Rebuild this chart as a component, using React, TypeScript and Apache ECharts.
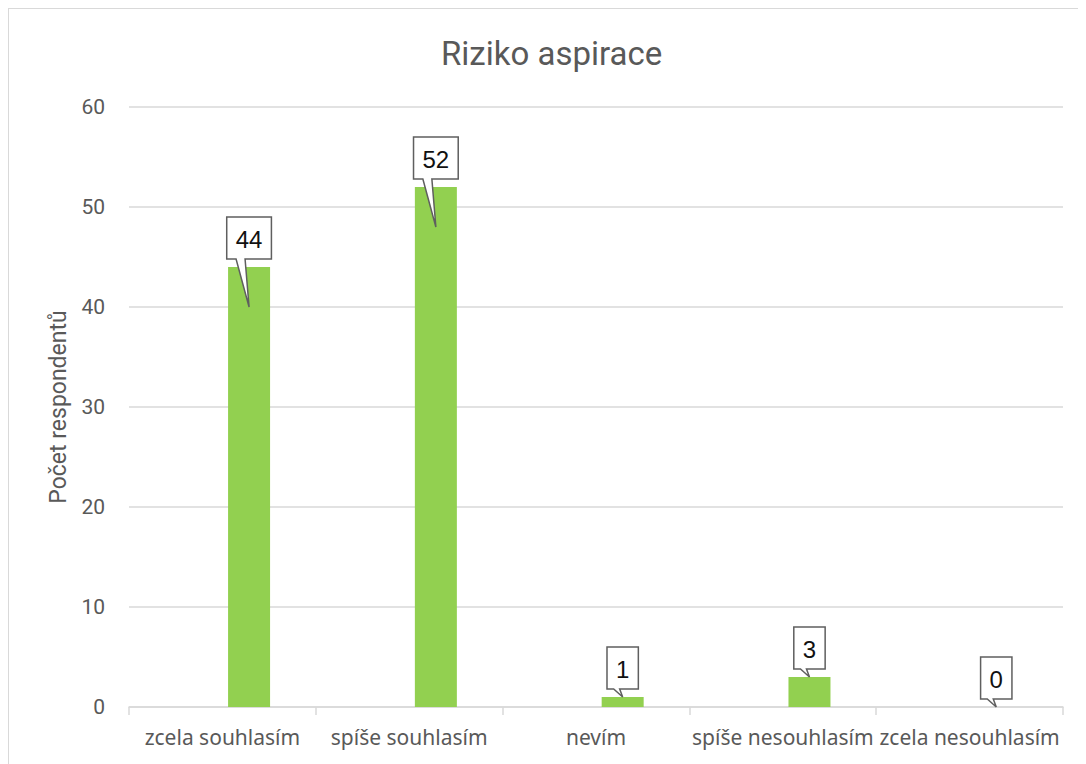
import React, { useEffect, useRef } from "react";
import * as echarts from "echarts";

const categories = [
  "zcela souhlasím",
  "spíše souhlasím",
  "nevím",
  "spíše nesouhlasím",
  "zcela nesouhlasím",
];
const respondents = [44, 52, 1, 3, 0];
const yTicks = [0, 10, 20, 30, 40, 50, 60];

const BAR_WIDTH = 42;
const BAR_GAP = 0.27;
// bars sit in the second slot of a two-slot group, so they are shifted right of the band centre
const BAR_OFFSET = (BAR_WIDTH + BAR_WIDTH * BAR_GAP) / 2;
const TEXT = "#595959";
const LINE = "#d9d9d9";

export default function App() {
  const ref = useRef<HTMLDivElement>(null);

  useEffect(() => {
    if (!ref.current) return;
    const chart = echarts.init(ref.current, undefined, { renderer: "svg" });

    const calloutItem = (params: any, api: any) => {
      const idx = api.value(0);
      const val = api.value(1);
      const [cx0, top] = api.coord([idx, val]);
      const base = api.coord([idx, 0])[1];
      const cx = cx0 + BAR_OFFSET;
      const label = String(val);
      const w = label.length * 13.35 + 18;
      const h = 42;
      const B = top - 8;
      const T = B - h;
      const L = cx - w / 2;
      const R = cx + w / 2;
      const tall = base - top > 80;
      const tipY = tall ? top + 40 : top;
      const b1 = tall ? -13 : -9;
      const b2 = tall ? -4 : -3;
      return {
        type: "group",
        children: [
          {
            type: "polygon",
            shape: {
              points: [
                [L, T],
                [R, T],
                [R, B],
                [cx + b2, B],
                [cx, tipY],
                [cx + b1, B],
                [L, B],
              ],
            },
            style: { fill: "#ffffff", stroke: "#5f5f5f", lineWidth: 1.5 },
          },
          {
            type: "text",
            style: {
              text: label,
              x: cx,
              y: T + h / 2 + 1,
              align: "center",
              verticalAlign: "middle",
              fontSize: 24,
              fontFamily: "Liberation Sans, Arial, sans-serif",
              fill: "#111111",
            },
          },
        ],
      };
    };

    chart.setOption({
      animation: false,
      title: {
        text: "Riziko aspirace",
        left: 427,
        top: 23,
        textStyle: {
          fontSize: 33,
          fontWeight: "normal",
          color: TEXT,
          fontFamily: "Roboto, sans-serif",
        },
      },
      grid: { left: 120, top: 98, width: 934, height: 600 },
      xAxis: {
        type: "category",
        data: categories,
        axisLine: { lineStyle: { color: LINE, width: 1.5 } },
        axisTick: { show: true, length: 8, lineStyle: { color: LINE, width: 1.5 } },
        axisLabel: {
          interval: 0,
          margin: 19,
          fontSize: 21,
          color: TEXT,
          fontFamily: "Noto Sans, sans-serif",
        },
      },
      yAxis: {
        type: "value",
        min: yTicks[0],
        max: yTicks[yTicks.length - 1],
        interval: 10,
        name: "Počet respondentů",
        nameLocation: "middle",
        nameGap: 58,
        nameTextStyle: {
          fontSize: 23,
          color: TEXT,
          fontFamily: "Roboto, sans-serif",
        },
        axisLine: { show: false },
        axisTick: { show: false },
        axisLabel: {
          margin: 24,
          fontSize: 21,
          color: TEXT,
          fontFamily: "Roboto, sans-serif",
        },
        splitLine: { lineStyle: { color: LINE, width: 1.5 } },
      },
      series: [
        {
          type: "bar",
          name: "spacer",
          data: categories.map(() => "-"),
          barWidth: BAR_WIDTH,
          barGap: `${BAR_GAP * 100}%`,
          silent: true,
        },
        {
          type: "bar",
          name: "Počet respondentů",
          data: respondents,
          barWidth: BAR_WIDTH,
          barGap: `${BAR_GAP * 100}%`,
          itemStyle: { color: "#92d050" },
        },
        {
          type: "custom",
          name: "labels",
          data: respondents.map((v, i) => [i, v]),
          encode: { x: 0, y: 1 },
          renderItem: calloutItem,
          clip: false,
          z: 10,
        },
      ],
    });

    return () => chart.dispose();
  }, []);

  return (
    <div
      style={{
        width: 1078,
        height: 756,
        boxSizing: "border-box",
        borderLeft: `1px solid ${LINE}`,
        borderTop: `1px solid ${LINE}`,
        background: "#ffffff",
      }}
    >
      <div ref={ref} style={{ width: 1077, height: 755 }} />
    </div>
  );
}
